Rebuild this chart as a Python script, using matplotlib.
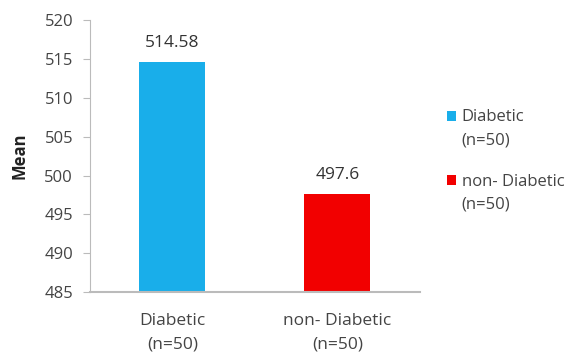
import matplotlib.pyplot as plt
from matplotlib.patches import Rectangle
from matplotlib.legend_handler import HandlerPatch

# Mean values per group
groups = ["Diabetic\n(n=50)", "non- Diabetic\n(n=50)"]
means = [514.58, 497.6]
value_labels = ["514.58", "497.6"]
colors = ["#19AEEA", "#F20000"]

plt.rcParams["font.family"] = ["Open Sans", "DejaVu Sans"]


def top_square(legend, orig_handle, xdescent, ydescent, width, height, fontsize):
    # square marker lined up with the first line of a two-line label
    return Rectangle((-xdescent, -ydescent + 0.8 * fontsize), width, height)


fig = plt.figure(figsize=(5.83, 3.54), dpi=100)
ax = fig.add_axes([0.154, 0.175, 0.566, 0.768])

x = range(len(groups))
bars = ax.bar(x, [m - 485 for m in means], bottom=485, width=0.4,
              color=colors, label=groups)

for xi, m, lab in zip(x, means, value_labels):
    ax.text(xi, m + 1.5, lab, ha="center", va="bottom", fontsize=12.5, color="#333333")

ax.set_xlim(-0.5, 1.5)
ax.set_ylim(485, 520)
ax.set_yticks(range(485, 521, 5))
ax.set_xticks(list(x))
ax.set_xticklabels(groups, fontsize=12.5, color="#444444", linespacing=1.6)
ax.tick_params(axis="y", labelsize=12, labelcolor="#444444", direction="out",
               length=5, color="#bbbbbb", pad=7)
ax.tick_params(axis="x", length=0, pad=15)
ax.set_ylabel("Mean", fontsize=12, fontweight="bold", color="#222222")
ax.yaxis.set_label_coords(-0.185, 0.5)

for side in ["top", "right"]:
    ax.spines[side].set_visible(False)
ax.spines["left"].set_color("#bbbbbb")
ax.spines["bottom"].set_color("#bbbbbb")
ax.spines["bottom"].set_linewidth(1.5)

leg = fig.legend(handles=bars, labels=groups, loc="upper left",
                 bbox_to_anchor=(0.755, 0.71), frameon=False, fontsize=12,
                 handlelength=0.55, handleheight=0.55, handletextpad=0.35,
                 labelspacing=1.5, borderaxespad=0.0,
                 handler_map={Rectangle: HandlerPatch(patch_func=top_square)})
for t in leg.get_texts():
    t.set_color("#444444")
    t.set_linespacing(1.6)

fig.savefig("out.png", dpi=100)
